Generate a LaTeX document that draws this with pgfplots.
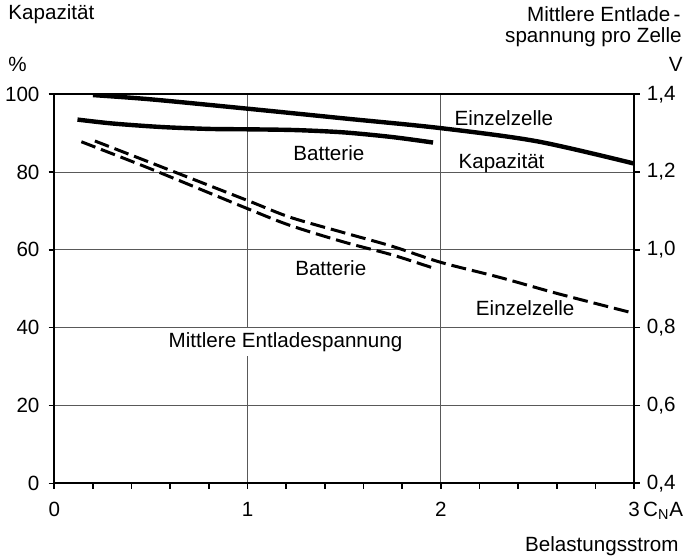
\documentclass[border=0pt]{standalone}
\usepackage{pgfplots}
\pgfplotsset{compat=1.18}
\usepackage{fontspec}
\setmainfont{Liberation Sans}

\begin{document}
\fontsize{10.3}{12}\selectfont
\begin{tikzpicture}[x=1pt,y=1pt]
\useasboundingbox (-27.15,-36.35) rectangle (315.35,241.65);

% left axis: capacity in %
\begin{axis}[
    scale only axis,
    width=289.85pt, height=194.5pt,
    xmin=0, xmax=3, ymin=0, ymax=100,
    xtick={0,1,2,3},
    xticklabels={0,1,2,{3\rlap{\,C\textsubscript{N}A}}},
    minor x tick num=4,
    ytick={0,20,40,60,80,100},
    xtick pos=bottom, ytick pos=left,
    tick align=outside,
    major tick length=2.8pt, minor tick length=2.6pt,
    tick style={line width=0.8pt, black},
    grid=major,
    major grid style={line width=0.5pt, black!65},
    axis line style={line width=1pt},
    /pgf/number format/assume math mode=true,
    every tick label/.append style={font=\fontsize{10.3}{12}\selectfont},
    xticklabel style={yshift=-3pt},
    yticklabel style={xshift=-1pt},
]

% Kapazitaet, Einzelzelle
\addplot[black, line width=2.2pt, smooth] coordinates {
    (0.2,99.8) (0.5,98.7) (1,96.3) (1.5,93.8) (2,91.3) (2.5,87.9) (3,82.2)
};
% Kapazitaet, Batterie
\addplot[black, line width=2.2pt, smooth] coordinates {
    (0.12,93.5) (0.3,92.5) (0.55,91.6) (0.8,91.1) (1,91.0) (1.25,90.8) (1.5,90.2) (1.75,89.0) (1.96,87.6)
};
% Entladespannung, Einzelzelle
\addplot[black, line width=1.5pt, dash pattern=on 7.5pt off 3pt, smooth] coordinates {
    (0.21,88.0) (0.5,82.4) (1,72.7) (1.22,68.4) (1.5,64.4) (1.75,60.9) (2,56.8) (2.3,53.0) (2.61,48.7) (3,43.7)
};
% Entladespannung, Batterie
\addplot[black, line width=1.5pt, dash pattern=on 7.5pt off 3pt, smooth] coordinates {
    (0.14,87.8) (0.5,80.8) (1,70.6) (1.22,66.3) (1.5,62.0) (1.75,58.7) (1.975,55.1)
};

\node[anchor=west, inner sep=0pt] at (axis cs:2.07,93.9) {Einzelzelle};
\node[anchor=west, inner sep=0pt] at (axis cs:2.09,82.3) {Kapazität};
\node[anchor=west, inner sep=0pt] at (axis cs:1.235,84.9) {Batterie};
\node[anchor=west, inner sep=0pt] at (axis cs:1.245,55.3) {Batterie};
\node[anchor=west, inner xsep=0pt, inner ysep=2pt, fill=white] at (axis cs:0.59,36.3) {Mittlere Entladespannung};
\node[anchor=west, inner sep=0pt] at (axis cs:2.18,45.1) {Einzelzelle};
\end{axis}

% right axis: mean discharge voltage per cell in V
\begin{axis}[
    scale only axis,
    width=289.85pt, height=194.5pt,
    xmin=0, xmax=3, ymin=0.4, ymax=1.4,
    axis x line=none,
    axis y line*=right,
    ytick={0.4,0.6,0.8,1.0,1.2,1.4},
    tick align=outside,
    major tick length=2.8pt,
    tick style={line width=0.8pt, black},
    axis line style={line width=1pt},
    yticklabel style={/pgf/number format/.cd, fixed, fixed zerofill, precision=1, use comma, assume math mode=true},
    every tick label/.append style={font=\fontsize{10.3}{12}\selectfont},
]
\end{axis}

\node[anchor=west, inner sep=0pt] at (-23.15,234.65) {Kapazität};
\node[anchor=west, inner sep=0pt] at (-23.15,209.65) {\%};
\node[anchor=east, inner sep=0pt] at (313.35,234.65) {Mittlere Entlade\,-};
\node[anchor=east, inner sep=0pt] at (313.85,223.15) {spannung pro Zelle};
\node[anchor=east, inner sep=0pt] at (314.35,209.65) {V};
\node[anchor=east, inner sep=0pt] at (312.35,-31.35) {Belastungsstrom};
\end{tikzpicture}
\end{document}
